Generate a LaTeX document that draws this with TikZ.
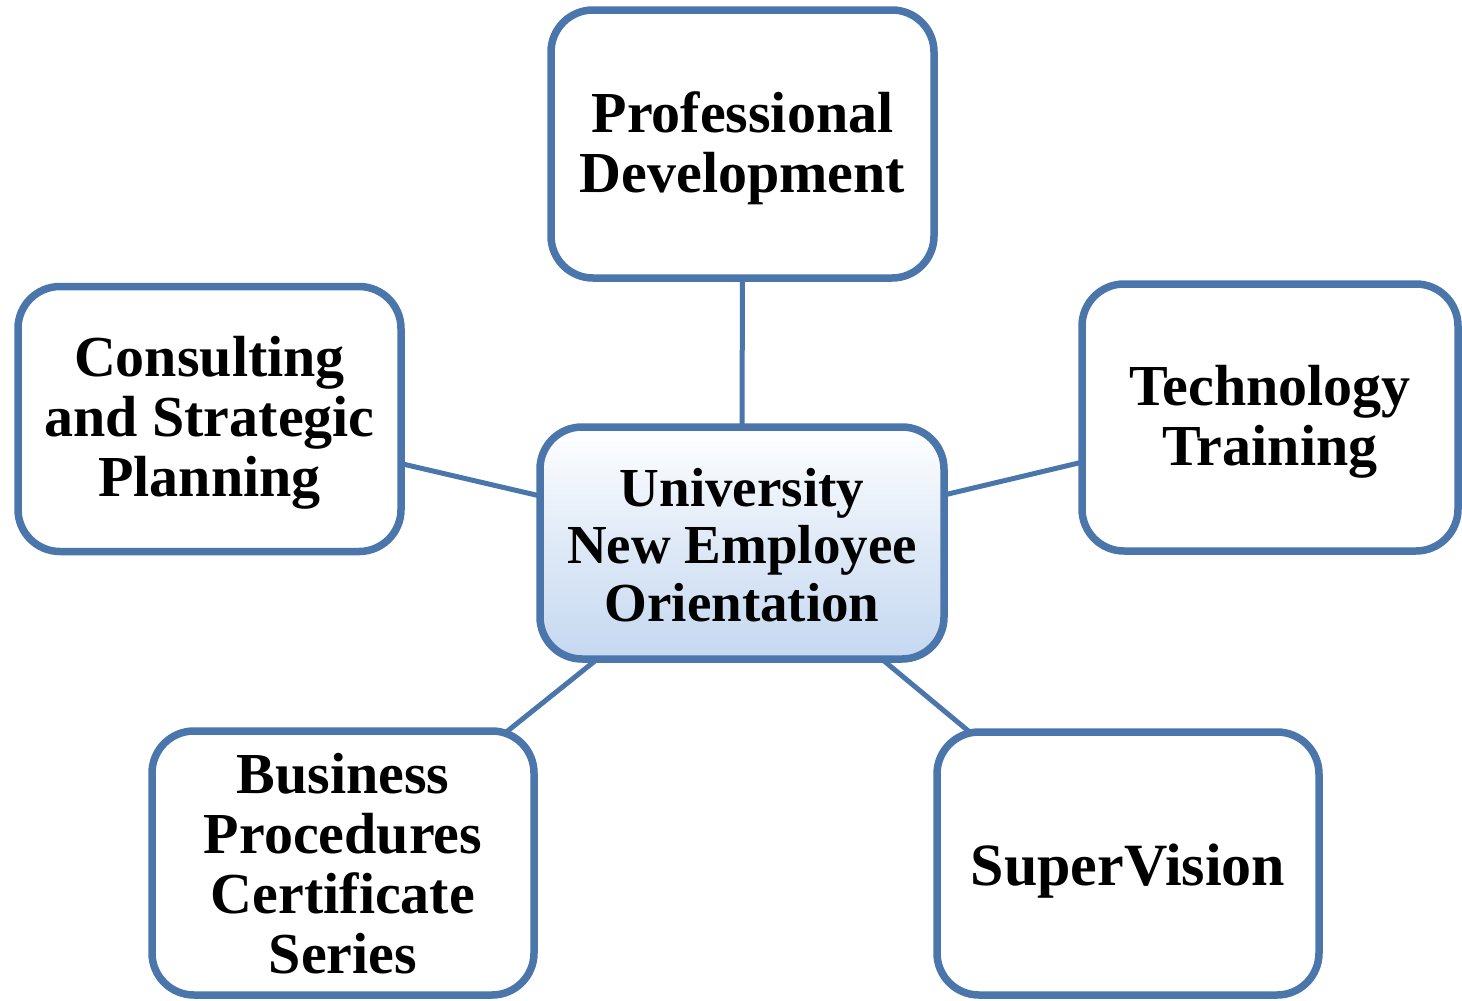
\documentclass[tikz,border=0pt]{standalone}
\usepackage{fontspec}
\setmainfont{Liberation Serif}
\usetikzlibrary{backgrounds,shadows}
\definecolor{BoxLine}{RGB}{74,118,172}
\definecolor{BoxFill}{RGB}{197,216,240}
\newcommand\dropfirst[1]{\rule{0pt}{#1}}
\begin{document}
\begin{tikzpicture}[x=1pt,y=-1pt,
  leaf/.style={draw=BoxLine, line width=7.5pt, fill=white, rounded corners=42pt,
    align=center, inner sep=0pt,
    font=\fontsize{58}{60}\selectfont\bfseries,
    drop shadow={opacity=0.12, shadow xshift=2pt, shadow yshift=-3pt}},
  hub/.style={leaf, top color=white, bottom color=BoxFill, middle color=BoxFill!55!white,
    font=\fontsize{55}{57.5}\selectfont\bfseries},
  link/.style={draw=BoxLine, line width=5pt}]
\useasboundingbox (0,0) rectangle (1462,1001);

\node[hub, minimum width=404pt, minimum height=232pt] (c) at (742,543)
  {\dropfirst{42pt}University\\New Employee\\Orientation};
\node[leaf, minimum width=383pt, minimum height=268pt] (pd) at (742.5,144)
  {\dropfirst{49pt}Professional\\Development};
\node[leaf, minimum width=383pt, minimum height=265pt] (cs) at (209.5,419)
  {\dropfirst{48pt}Consulting\\and Strategic\\Planning};
\node[leaf, minimum width=376pt, minimum height=267pt] (tt) at (1270,417.5)
  {\dropfirst{49pt}Technology\\Training};
\node[leaf, minimum width=382pt, minimum height=264pt] (bp) at (343,863)
  {\dropfirst{42pt}Business\\Procedures\\Certificate\\Series};
\node[leaf, minimum width=382pt, minimum height=263pt] (sv) at (1128,863.5)
  {\dropfirst{56pt}\fontsize{60}{62}\selectfont SuperVision};

\begin{scope}[on background layer]
  \fill[white] (0,0) rectangle (1462,1001);
  \draw[link] (c.center) -- (pd.center);
  \draw[link] (c.center) -- (cs.center);
  \draw[link] (c.center) -- (tt.center);
  \draw[link] (c.center) -- (bp.center);
  \draw[link] (c.center) -- (sv.center);
\end{scope}
\end{tikzpicture}
\end{document}
